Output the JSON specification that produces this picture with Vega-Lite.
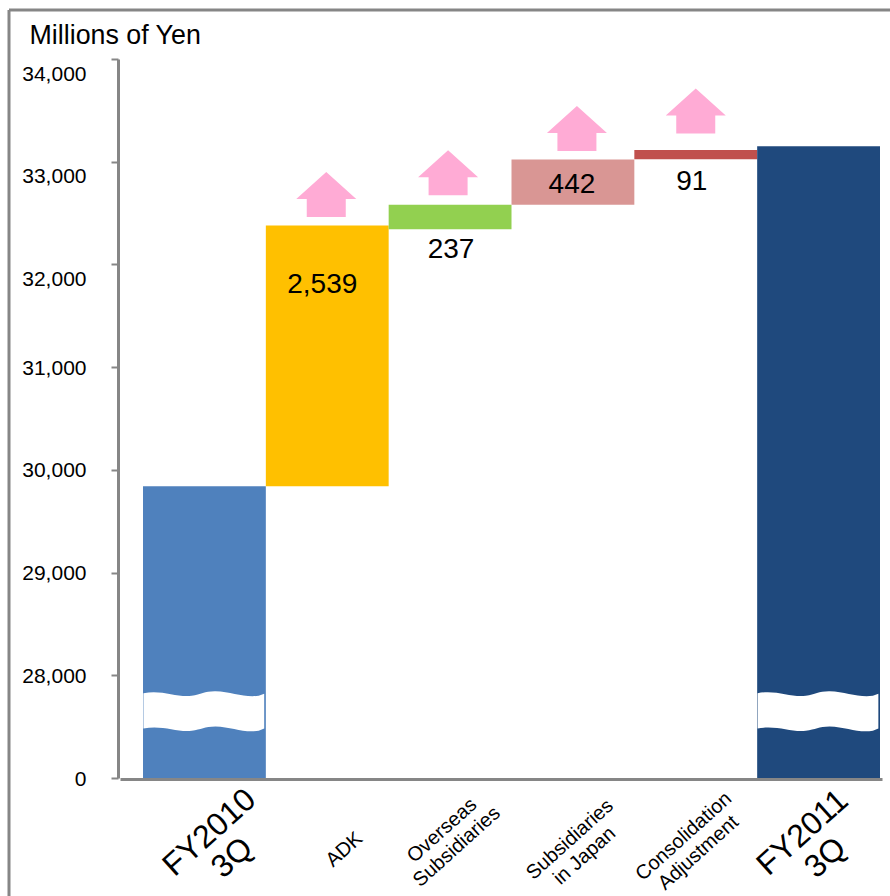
{
  "$schema": "https://vega.github.io/schema/vega-lite/v6.json",
  "width": 881,
  "height": 886,
  "padding": {"left": 9, "top": 10, "right": 0, "bottom": 0},
  "autosize": {"type": "none"},
  "background": "white",
  "view": {"stroke": "#868686", "strokeWidth": 3, "strokeDash": [881, 1767, 886, 0], "fill": "white"},
  "config": {"font": "Liberation Sans"},
  "data": {
    "values": [
      {"item": "FY2010\n3Q", "start": 27000, "end": 29840, "change": "", "color": "#4F81BD"},
      {"item": "ADK", "start": 29840, "end": 32379, "change": "2,539", "color": "#FFC000"},
      {"item": "Overseas\nSubsidiaries", "start": 32343, "end": 32580, "change": "237", "color": "#92D050"},
      {"item": "Subsidiaries\nin Japan", "start": 32580, "end": 33022, "change": "442", "color": "#D99694"},
      {"item": "Consolidation\nAdjustment", "start": 33023, "end": 33114, "change": "91", "color": "#C0504D"},
      {"item": "FY2011\n3Q", "start": 27000, "end": 33150, "change": "", "color": "#1F497D"}
    ]
  },
  "encoding": {
    "x": {
      "field": "item",
      "type": "nominal",
      "sort": null,
      "scale": {"range": [111, 873], "paddingInner": 0, "paddingOuter": 0.1018, "align": 0.92},
      "axis": {
        "title": null,
        "offset": -117,
        "domainColor": "#868686",
        "domainWidth": 3,
        "ticks": false,
        "labelAngle": -42,
        "labelAlign": "center",
        "labelBaseline": "middle",
        "labelColor": "black",
        "labelFont": "Liberation Sans",
        "labelLimit": 0,
        "labelOverlap": false,
        "encoding": {"labels": {"update": {"lineHeight": {"signal": "indexof(datum.value, 'FY') == 0 ? 41 : 26"}}}},
        "labelExpr": "split(datum.label, '\\n')",
        "labelFontSize": {"condition": {"test": "indexof(datum.value, 'FY') == 0", "value": 32}, "value": 20},
        "labelOffset": {
          "condition": [
            {"test": "datum.value == 'ADK'", "value": 17},
            {"test": "indexof(datum.value, 'FY2010') == 0", "value": 5},
            {"test": "indexof(datum.value, 'FY2011') == 0", "value": -16},
            {"test": "indexof(datum.value, 'Overseas') == 0", "value": -8},
            {"test": "indexof(datum.value, 'Subsidiaries') == 0", "value": -3},
            {"test": "indexof(datum.value, 'Consolidation') == 0", "value": -12}
          ],
          "value": 0
        },
        "labelPadding": {
          "condition": [
            {"test": "datum.value == 'ADK'", "value": 70},
            {"test": "indexof(datum.value, 'FY') == 0", "value": 53},
            {"test": "indexof(datum.value, 'Overseas') == 0", "value": 51},
            {"test": "indexof(datum.value, 'Subsidiaries') == 0", "value": 60},
            {"test": "indexof(datum.value, 'Consolidation') == 0", "value": 57}
          ],
          "value": 55
        }
      }
    }
  },
  "layer": [
    {
      "mark": {"type": "bar"},
      "encoding": {
        "y": {
          "field": "start",
          "type": "quantitative",
          "scale": {"domain": [27000, 34000], "range": [768, 49], "nice": false, "zero": false},
          "axis": {
            "offset": -109,
            "values": [27000, 28000, 29000, 30000, 31000, 32000, 33000, 34000],
            "grid": false,
            "domainColor": "#868686",
            "domainWidth": 3,
            "tickColor": "#868686",
            "tickWidth": 2,
            "tickSize": 7,
            "labelColor": "black",
            "labelFont": "Liberation Sans",
            "labelFontSize": 21,
            "labelPadding": 25,
            "labelOverlap": false,
            "labelExpr": "datum.value == 27000 ? '0' : format(datum.value, ',')",
            "labelOffset": {"condition": {"test": "datum.value >= 32000", "value": 15}, "value": 1},
            "title": "Millions of Yen",
            "titleAngle": 0,
            "titleAlign": "left",
            "titleBaseline": "alphabetic",
            "titleFont": "Liberation Sans",
            "titleFontSize": 26.8,
            "titleFontWeight": "normal",
            "titleColor": "black",
            "titleX": -89,
            "titleY": 33
          }
        },
        "y2": {"field": "end"},
        "color": {"field": "color", "type": "nominal", "scale": null}
      }
    },
    {
      "description": "White wavy axis break across the two full-height bars",
      "transform": [{"filter": "datum.start == 27000"}],
      "mark": {
        "type": "point",
        "filled": true,
        "fill": "white",
        "opacity": 1,
        "size": 14884,
        "shape": "M-1,-.295 C-.7,-.36 -.45,-.22 -.21,-.254 C-.05,-.28 0,-.33 .18,-.328 C.45,-.32 .65,-.22 .89,-.254 L.98,-.287 L.98,.285 L.89,.32 C.65,.36 .45,.26 .18,.25 C0,.25 -.05,.30 -.21,.32 C-.45,.35 -.7,.22 -1,.285 Z"
      },
      "encoding": {"y": {"datum": 27650, "type": "quantitative"}}
    },
    {
      "transform": [{"filter": "datum.change == '2,539'"}],
      "layer": [
        {
          "mark": {"type": "point", "filled": true, "fill": "#FFABD5", "opacity": 1, "size": 3600, "xOffset": -1, "yOffset": -31,
            "shape": "M0,-.75 L1,.15 L.65,.15 L.65,.75 L-.65,.75 L-.65,.15 L-1,.15 Z"},
          "encoding": {"y": {"field": "end", "type": "quantitative"}}
        },
        {
          "mark": {"type": "text", "font": "Liberation Sans", "fontSize": 28, "color": "black", "dx": -5, "dy": 60},
          "encoding": {"y": {"field": "end", "type": "quantitative"}, "text": {"field": "change"}}
        }
      ]
    },
    {
      "transform": [{"filter": "datum.change == '237'"}],
      "layer": [
        {
          "mark": {"type": "point", "filled": true, "fill": "#FFABD5", "opacity": 1, "size": 3600, "xOffset": -2, "yOffset": -32,
            "shape": "M0,-.75 L1,.15 L.65,.15 L.65,.75 L-.65,.75 L-.65,.15 L-1,.15 Z"},
          "encoding": {"y": {"field": "end", "type": "quantitative"}}
        },
        {
          "mark": {"type": "text", "font": "Liberation Sans", "fontSize": 28, "color": "black", "dx": 1, "dy": 21},
          "encoding": {"y": {"field": "start", "type": "quantitative"}, "text": {"field": "change"}}
        }
      ]
    },
    {
      "transform": [{"filter": "datum.change == '442'"}],
      "layer": [
        {
          "mark": {"type": "point", "filled": true, "fill": "#FFABD5", "opacity": 1, "size": 3600, "xOffset": 4, "yOffset": -31,
            "shape": "M0,-.75 L1,.15 L.65,.15 L.65,.75 L-.65,.75 L-.65,.15 L-1,.15 Z"},
          "encoding": {"y": {"field": "end", "type": "quantitative"}}
        },
        {
          "mark": {"type": "text", "font": "Liberation Sans", "fontSize": 28, "color": "black", "dx": -1, "dy": 26},
          "encoding": {"y": {"field": "end", "type": "quantitative"}, "text": {"field": "change"}}
        }
      ]
    },
    {
      "transform": [{"filter": "datum.change == '91'"}],
      "layer": [
        {
          "mark": {"type": "point", "filled": true, "fill": "#FFABD5", "opacity": 1, "size": 3600, "xOffset": 0, "yOffset": -39,
            "shape": "M0,-.75 L1,.15 L.65,.15 L.65,.75 L-.65,.75 L-.65,.15 L-1,.15 Z"},
          "encoding": {"y": {"field": "end", "type": "quantitative"}}
        },
        {
          "mark": {"type": "text", "font": "Liberation Sans", "fontSize": 28, "color": "black", "dx": -4, "dy": 23},
          "encoding": {"y": {"field": "start", "type": "quantitative"}, "text": {"field": "change"}}
        }
      ]
    }
  ]
}
